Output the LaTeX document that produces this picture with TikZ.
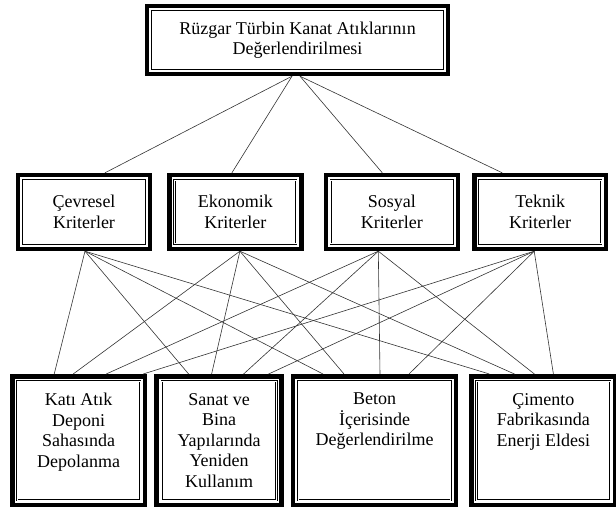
\documentclass[tikz,border=0pt]{standalone}
\usepackage{fontspec}
\setmainfont{Liberation Serif}
\usetikzlibrary{positioning}
\tikzstyle{kutu} = [inner xsep=6pt, align=center, font=\fontsize{18}{20.5}\selectfont]
\tikzstyle{amac} = [kutu, minimum width=305pt, minimum height=72pt]
\tikzstyle{kriter} = [kutu, minimum width=136pt, minimum height=78pt]
\tikzstyle{secenek} = [kutu, inner ysep=19pt]
\tikzstyle{baglanti} = [line width=0.6pt, black!80]
\newcommand{\metin}[2]{\parbox[c][95pt][t]{#1}{\centering #2}}
\newcommand{\cerceve}[1]{%
    \foreach \k in {#1}{% thick line outside, thin double line inside
      \draw[line width=4.5pt] ([shift={(2.25pt,-2.25pt)}]\k.north west) rectangle ([shift={(-2.25pt,2.25pt)}]\k.south east);
      \draw[double, line width=0.6pt, double distance=1pt] ([shift={(7.3pt,-7.3pt)}]\k.north west) rectangle ([shift={(-7.3pt,7.3pt)}]\k.south east);
    }
}

\begin{document}
\begin{tikzpicture}[x=1pt, y=-1pt]
    \useasboundingbox (0,0) rectangle (616,508);

    \node[amac] (hedef) at (297.5,40) {Rüzgar Türbin Kanat Atıklarının\\Değerlendirilmesi};

    \node[kriter] (cev) at (84,212) {Çevresel\\Kriterler};
    \node[kriter] (eko) [right=15pt of cev] {Ekonomik\\Kriterler};
    \node[kriter] (sos) [right=20pt of eko] {Sosyal\\Kriterler};
    \node[kriter] (tek) [right=12pt of sos] {Teknik\\Kriterler};

    \node[secenek, anchor=north west] (kat) at (10,374) {\metin{125pt}{Katı Atık\\Deponi\\Sahasında\\Depolanma}};
    \node[secenek] (san) [right=7pt of kat] {\metin{117pt}{Sanat ve\\Bina\\Yapılarında\\Yeniden\\Kullanım}};
    \node[secenek] (bet) [right=7pt of san] {\metin{155pt}{Beton\\İçerisinde\\Değerlendirilme}};
    \node[secenek] (cim) [right=11pt of bet] {\metin{136pt}{Çimento\\Fabrikasında\\Enerji Eldesi}};

    \cerceve{hedef,cev,eko,sos,tek,kat,san,bet,cim}

    % goal to criteria
    \foreach \d/\k/\e in {-5.5/cev/21, -5.5/eko/-3.5, 2.5/sos/-9.5, 2.5/tek/-38}
      \draw[baglanti] ([xshift=\d pt]hedef.south) -- ([xshift=\e pt]\k.north);

    % criteria to alternatives
    \foreach \k/\d/\s/\e in {cev/1/kat/-24.5, eko/4.5/kat/-5.5, sos/-13.5/kat/27.5, tek/-6/kat/64.5,
                             cev/1/san/-30.5, eko/4.5/san/-7.5, sos/-13.5/san/24.5, tek/-6/san/49.5,
                             cev/1/bet/-51.5, eko/4.5/bet/-30.5, sos/-13.5/bet/5.5, tek/-6/bet/34.5,
                             cev/1/cim/-54, eko/4.5/cim/-29, sos/-13.5/cim/-9, tek/-6/cim/10}
      \draw[baglanti] ([xshift=\d pt]\k.south) -- ([xshift=\e pt]\s.north);
\end{tikzpicture}
\end{document}
